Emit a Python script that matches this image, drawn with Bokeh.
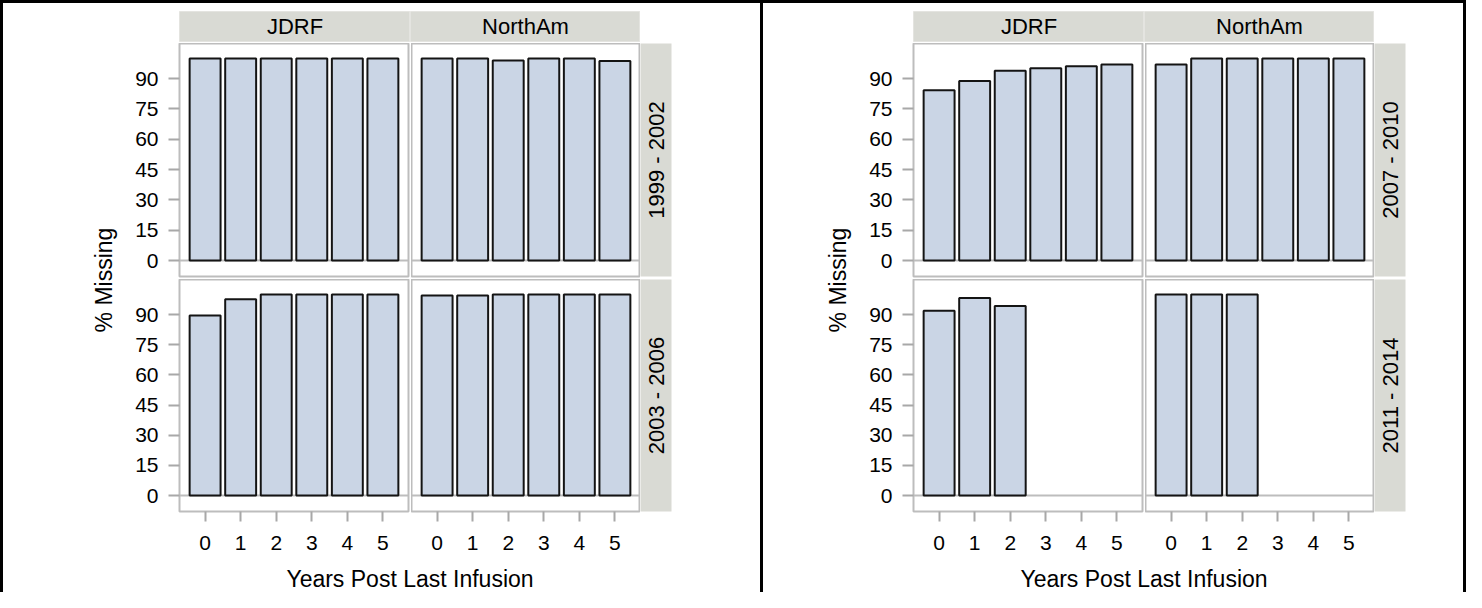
import math
from bokeh.plotting import figure
from bokeh.layouts import row, column
from bokeh.models import Range1d, FixedTicker, Span, Div
from bokeh.core.properties import value
from bokeh.embed import file_html
from bokeh.resources import INLINE

# ---------------- data ----------------
years = [0, 1, 2, 3, 4, 5]
groups = ["JDRF", "NorthAm"]
left_periods = ["1999 - 2002", "2003 - 2006"]
right_periods = ["2007 - 2010", "2011 - 2014"]
y_ticks = [0, 15, 30, 45, 60, 75, 90]

jdrf_1999_2002 = [100, 100, 100, 100, 100, 100]
northam_1999_2002 = [100, 100, 99.0, 100, 100, 98.8]
jdrf_2003_2006 = [89.5, 97.6, 100, 100, 100, 100]
northam_2003_2006 = [99.5, 99.5, 100, 100, 100, 100]
jdrf_2007_2010 = [84.3, 88.9, 93.9, 95.2, 96.2, 97.0]
northam_2007_2010 = [97.0, 100, 100, 100, 100, 100]
years_2011_2014 = [0, 1, 2]
jdrf_2011_2014 = [91.9, 98.2, 94.2]
northam_2011_2014 = [100, 100, 100]

x_title = "Years Post Last Infusion"
y_title = "% Missing"

# ---------------- style ----------------
FONT = "Liberation Sans"
BAR_FILL = "#CAD5E5"
BAR_LINE = "#141414"
STRIP_FILL = "#D9DAD4"
WALL_LINE = "#BDBDBD"
TICK_LINE = "#A8A8A8"

FRAME_W = 229
GAP = 3
AXIS_W = 60
STRIP_W = 31
HDR_H = 40
ROW1_H = 236
ROW2_FRAME = 232
ROW2_BOTTOM = 50
XT_H = 31


def bar_panel(xs, vals, first_col, bottom_row):
    mb_left = AXIS_W if first_col else 0
    mb_right = GAP if first_col else 0
    mb_bottom = ROW2_BOTTOM if bottom_row else 3
    fh = ROW2_FRAME if bottom_row else ROW1_H - 3
    p = figure(width=mb_left + FRAME_W + mb_right, height=fh + mb_bottom,
               x_range=Range1d(-0.72, 5.72), y_range=Range1d(-7.9, 107.4),
               min_border_left=mb_left, min_border_right=mb_right,
               min_border_top=0, min_border_bottom=mb_bottom,
               x_axis_type="linear" if bottom_row else None,
               y_axis_type="linear" if first_col else None,
               toolbar_location=None, output_backend="svg",
               background_fill_color="white", border_fill_color="white",
               outline_line_color=WALL_LINE, outline_line_width=2)
    p.grid.visible = False
    p.add_layout(Span(location=0, dimension="width", line_color=WALL_LINE,
                      line_width=2, level="underlay"))
    p.vbar(x=xs, top=vals, bottom=0, width=0.87, fill_color=BAR_FILL,
           line_color=BAR_LINE, line_width=2)
    for ax in list(p.xaxis) + list(p.yaxis):
        ax.axis_line_color = None
        ax.minor_tick_line_color = None
        ax.major_tick_in = 0
        ax.major_tick_line_color = TICK_LINE
        ax.major_tick_line_width = 2
        ax.major_label_text_font = FONT
        ax.major_label_text_font_size = "21px"
        ax.major_label_text_color = "black"
    if bottom_row:
        p.xaxis.ticker = FixedTicker(ticks=years)
        p.xaxis.major_tick_out = 10
        p.xaxis.major_label_standoff = 14
    if first_col:
        p.yaxis.ticker = FixedTicker(ticks=y_ticks)
        p.yaxis.major_tick_out = 11
        p.yaxis.major_label_standoff = 10
    return p


def header(label, left_pad, w):
    p = figure(width=left_pad + w, height=HDR_H, x_range=Range1d(0, 1), y_range=Range1d(0, 1),
               min_border_left=left_pad, min_border_right=0, min_border_top=8,
               min_border_bottom=2, x_axis_type=None, y_axis_type=None,
               toolbar_location=None, output_backend="svg",
               background_fill_color=STRIP_FILL, border_fill_color="white",
               outline_line_color="#E4E4E0", outline_line_width=1)
    p.text(x=[0.5], y=[0.5], text=[label], text_align="center", text_baseline="middle",
           text_font=value(FONT), text_font_size=value("22px"), text_color="black")
    return p


def strip(label, fh, bottom_pad, right_pad):
    p = figure(width=STRIP_W + right_pad, height=fh + bottom_pad,
               x_range=Range1d(0, 1), y_range=Range1d(0, 1),
               min_border_left=0, min_border_right=right_pad, min_border_top=0,
               min_border_bottom=bottom_pad, x_axis_type=None, y_axis_type=None,
               toolbar_location=None, output_backend="svg",
               background_fill_color=STRIP_FILL, border_fill_color="white",
               outline_line_color=None)
    p.text(x=[0.5], y=[0.5], text=[label], angle=math.pi / 2, text_align="center",
           text_baseline="middle", text_font=value(FONT), text_font_size=value("22px"),
           text_color="black")
    return p


def text_fig(w, h, x, y, txt, angle=0.0):
    p = figure(width=w, height=h, x_range=Range1d(0, w), y_range=Range1d(0, h),
               min_border=0, min_border_left=0, min_border_right=0, min_border_top=0,
               min_border_bottom=0, x_axis_type=None, y_axis_type=None,
               toolbar_location=None, output_backend="svg",
               background_fill_color="white", border_fill_color="white",
               outline_line_color=None)
    p.text(x=[x], y=[y], text=[txt], angle=angle, text_align="center",
           text_baseline="middle", text_font=value(FONT), text_font_size=value("23px"),
           text_color="black")
    return p


def chart(periods, data, left_w, trail_w):
    inner_w = left_w + AXIS_W + FRAME_W + GAP + FRAME_W + STRIP_W + trail_w
    hdr = row(header(groups[0], left_w + AXIS_W, FRAME_W + 2),
              header(groups[1], 0, FRAME_W + 1), spacing=0)
    rows = []
    for r, per in enumerate(periods):
        bottom = (r == len(periods) - 1)
        cells = []
        for c, g in enumerate(groups):
            xs, vals = data[(g, per)]
            cells.append(bar_panel(xs, vals, c == 0, bottom))
        fh = ROW2_FRAME if bottom else ROW1_H - 3
        cells.append(strip(per, fh, ROW2_BOTTOM if bottom else 3, trail_w))
        rows.append(row(*cells, spacing=0))
    mid_h = ROW1_H + ROW2_FRAME + ROW2_BOTTOM
    ytl = text_fig(left_w, mid_h, left_w + AXIS_W - 75.5, mid_h - 236.5, y_title,
                   angle=math.pi / 2)
    middle = row(ytl, column(*rows, spacing=0), spacing=0)
    xtl = text_fig(inner_w, XT_H, left_w + AXIS_W + (2 * FRAME_W + GAP) / 2, 13.3, x_title)
    inner = column(hdr, middle, xtl, spacing=0)
    return inner, inner_w


def line(w, h):
    return Div(text="", width=w, height=h, margin=(0, 0, 0, 0),
               styles={"background-color": "black"})


left_data = {
    ("JDRF", "1999 - 2002"): (years, jdrf_1999_2002),
    ("NorthAm", "1999 - 2002"): (years, northam_1999_2002),
    ("JDRF", "2003 - 2006"): (years, jdrf_2003_2006),
    ("NorthAm", "2003 - 2006"): (years, northam_2003_2006),
}
right_data = {
    ("JDRF", "2007 - 2010"): (years, jdrf_2007_2010),
    ("NorthAm", "2007 - 2010"): (years, northam_2007_2010),
    ("JDRF", "2011 - 2014"): (years_2011_2014, jdrf_2011_2014),
    ("NorthAm", "2011 - 2014"): (years_2011_2014, northam_2011_2014),
}

BOX_H = 3 + HDR_H + ROW1_H + ROW2_FRAME + ROW2_BOTTOM + XT_H  # 592
left_inner, lw = chart(left_periods, left_data, 116, 89)
right_inner, rw = chart(right_periods, right_data, 90, 58)

left_box = row(line(3, BOX_H), column(line(lw, 3), left_inner, spacing=0),
               line(3, BOX_H), spacing=0)
right_box = row(column(line(rw, 3), right_inner, spacing=0), line(3, BOX_H), spacing=0)
page = row(left_box, right_box, spacing=0)

with open("out.html", "w") as f:
    f.write(file_html(page, INLINE, title="% Missing by Years Post Last Infusion"))
